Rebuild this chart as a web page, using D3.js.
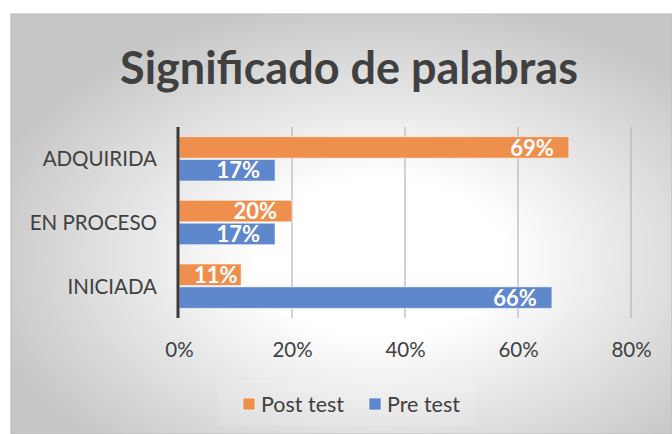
<!DOCTYPE html>
<html>
<head>
<meta charset="utf-8">
<script src="https://cdn.jsdelivr.net/npm/d3@7"></script>
<style>
  html, body { margin: 0; padding: 0; background: #ffffff; }
  svg { display: block; font-family: Lato, "Open Sans", sans-serif; }
</style>
</head>
<body>
<div id="chart"></div>
<script>
// Datos del gráfico
const categories = ["ADQUIRIDA", "EN PROCESO", "INICIADA"];
const seriesNames = ["Post test", "Pre test"];
const postTest = [69, 20, 11];
const preTest  = [17, 17, 66];
const xTicks   = [0, 20, 40, 60, 80];

const seriesColors = ["#ef8f4e", "#5f87cc"];

const W = 672, H = 434;
const plot = { left: 179, right: 631, top: 127, bottom: 318 };

const svg = d3.select("#chart").append("svg")
    .attr("width", W)
    .attr("height", H);

// Fondo con degradado radial
const defs = svg.append("defs");
const grad = defs.append("radialGradient")
    .attr("id", "bg")
    .attr("cx", "56%").attr("cy", "58%")
    .attr("r", "62%");
grad.append("stop").attr("offset", "0%").attr("stop-color", "#ffffff");
grad.append("stop").attr("offset", "30%").attr("stop-color", "#ffffff");
grad.append("stop").attr("offset", "100%").attr("stop-color", "#c6c6c6");

svg.append("rect")
    .attr("x", 11).attr("y", 14)
    .attr("width", W - 11).attr("height", H - 14)
    .attr("fill", "url(#bg)")
    .attr("stroke", "#b8b8b8")
    .attr("stroke-width", 1);

// Escalas
const x = d3.scaleLinear()
    .domain([0, 80])
    .range([plot.left, plot.right]);

const y = d3.scaleBand()
    .domain(categories)
    .range([plot.top, plot.bottom])
    .paddingInner(0.26)
    .paddingOuter(0.13);

const ySub = d3.scaleBand()
    .domain(seriesNames)
    .range([0, y.bandwidth()])
    .padding(0.06);

// Líneas de cuadrícula
svg.append("g")
    .selectAll("line")
    .data(xTicks.filter(t => t > 0))
    .join("line")
    .attr("x1", d => x(d)).attr("x2", d => x(d))
    .attr("y1", plot.top).attr("y2", plot.bottom)
    .attr("stroke", "#b5b5b5")
    .attr("stroke-width", 1.2);

// Eje X (solo etiquetas)
const xAxis = svg.append("g")
    .attr("transform", `translate(0, ${plot.bottom})`)
    .call(d3.axisBottom(x).tickValues(xTicks).tickFormat(d => d + "%").tickSize(0).tickPadding(24));
xAxis.select(".domain").remove();
xAxis.selectAll("text")
    .style("font-family", "Lato, sans-serif")
    .style("font-size", "20.5px")
    .style("fill", "#404040");

// Barras
const rows = categories.map((c, i) => ({ cat: c, values: [postTest[i], preTest[i]] }));

const groups = svg.append("g")
    .selectAll("g")
    .data(rows)
    .join("g")
    .attr("transform", d => `translate(0, ${y(d.cat)})`);

const bars = groups.selectAll("g")
    .data(d => d.values.map((v, j) => ({ name: seriesNames[j], value: v, j })))
    .join("g");

bars.append("rect")
    .attr("x", x(0))
    .attr("y", d => ySub(d.name))
    .attr("width", d => x(d.value) - x(0))
    .attr("height", ySub.bandwidth())
    .attr("fill", d => seriesColors[d.j])
    .attr("stroke", "rgba(255,255,255,0.55)")
    .attr("stroke-width", 1);

// Etiquetas de valores
bars.append("text")
    .attr("y", d => ySub(d.name) + ySub.bandwidth() / 2)
    .attr("dy", "0.37em")
    .attr("text-anchor", "end")
    .style("font-family", "Lato, sans-serif")
    .style("font-weight", "bold")
    .style("font-size", "22px")
    .style("fill", "#ffffff")
    .text(d => d.value + "%")
    .attr("x", function(d) {
        const w = this.getComputedTextLength();
        return Math.max(x(d.value) - 15, x(0) + w + 15);
    });

// Eje vertical
svg.append("line")
    .attr("x1", plot.left - 1).attr("x2", plot.left - 1)
    .attr("y1", plot.top).attr("y2", plot.bottom)
    .attr("stroke", "#3a3a3a")
    .attr("stroke-width", 3);

// Etiquetas de categorías
svg.append("g")
    .selectAll("text")
    .data(categories)
    .join("text")
    .attr("x", 157)
    .attr("y", d => y(d) + y.bandwidth() / 2)
    .attr("dy", "0.36em")
    .attr("text-anchor", "end")
    .style("font-size", "20.5px")
    .style("fill", "#404040")
    .text(d => d);

// Título
const title = svg.append("text")
    .attr("x", 349)
    .attr("y", 84)
    .attr("text-anchor", "middle")
    .style("font-weight", "bold")
    .style("font-size", "46px")
    .style("fill", "#404040")
    .text("Significado de palabras");
const tw = title.node().getComputedTextLength();
title.style("font-size", (46 * 458 / tw) + "px");

// Leyenda
svg.append("rect")
    .attr("x", 218).attr("y", 380)
    .attr("width", 257).attr("height", 46)
    .attr("fill", "rgba(255,255,255,0.1)");

const legend = svg.append("g")
    .attr("transform", "translate(243, 404)");
const legendX = [0, 126];
const items = legend.selectAll("g")
    .data(seriesNames)
    .join("g")
    .attr("transform", (d, i) => `translate(${legendX[i]}, 0)`);
items.append("rect")
    .attr("x", 0).attr("y", -6)
    .attr("width", 12).attr("height", 12)
    .attr("fill", (d, i) => seriesColors[i])
    .attr("stroke", "rgba(255,255,255,0.6)");
items.append("text")
    .attr("x", 18)
    .attr("dy", "0.36em")
    .style("font-size", "21.5px")
    .style("fill", "#404040")
    .text(d => d);
</script>
</body>
</html>
